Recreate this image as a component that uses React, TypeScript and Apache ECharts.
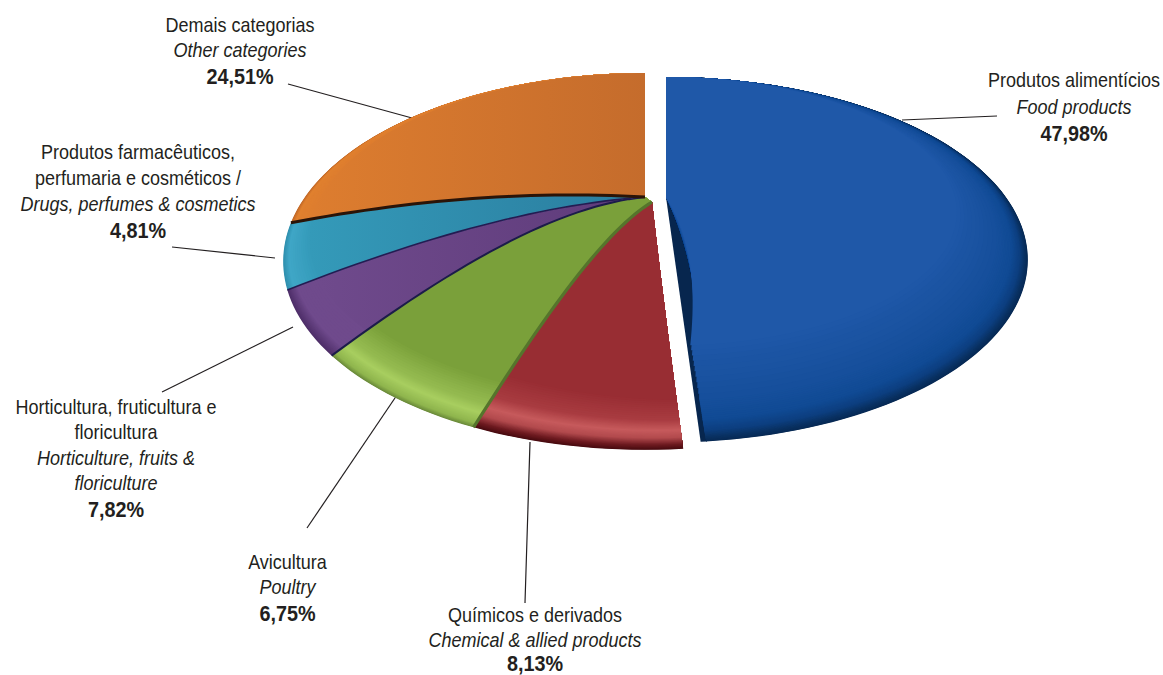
import React, { useEffect, useRef } from "react";
import * as echarts from "echarts";

// clockwise from the top of the pie
const categories = ["Produtos alimentícios", "Químicos e derivados", "Avicultura", "Horticultura, fruticultura e floricultura", "Produtos farmacêuticos, perfumaria e cosméticos", "Demais categorias"];
// printed percentages
const printedShares = ["47,98%", "8,13%", "6,75%", "7,82%", "4,81%", "24,51%"];
// share of the turn each slice occupies as drawn in the picture
const drawnShares = [48.82, 6.74, 6.67, 5.0, 5.42, 27.35];

const labelPt = [
  ["Produtos alimentícios"],
  ["Químicos e derivados"],
  ["Avicultura"],
  ["Horticultura, fruticultura e", "floricultura"],
  ["Produtos farmacêuticos,", "perfumaria e cosméticos /"],
  ["Demais categorias"],
];
const labelEn = [
  ["Food products"],
  ["Chemical & allied products"],
  ["Poultry"],
  ["Horticulture, fruits &", "floriculture"],
  ["Drugs, perfumes & cosmetics"],
  ["Other categories"],
];
const labelX = [1074, 535, 287.5, 116, 138, 240];
const labelY = [
  [80, 107, 133],
  [615, 640, 663.5],
  [562, 587, 613],
  [407, 432, 458, 483, 509],
  [152, 178, 204, 230],
  [25, 50, 76],
];
const leaders = [
  [997, 116, 902, 120],
  [530, 442, 525, 603],
  [397, 395, 307, 528],
  [293, 327, 162, 392],
  [172, 247, 275, 258],
  [288, 84, 412, 118],
];

// [rim inset, colour] running from the rim inwards
const rimStops: [number, string][][] = [
  [[0, "#082a55"], [0.012, "#0a3263"], [0.03, "#0d3f80"], [0.06, "#104a94"], [0.12, "#164f9c"], [0.3, "#1f58a8"]],
  [[0, "#480b10"], [0.012, "#6d1a20"], [0.03, "#b24a4d"], [0.05, "#c65a5c"], [0.08, "#a83b40"], [0.14, "#982d33"]],
  [[0, "#6a8a3a"], [0.01, "#90b64e"], [0.035, "#a8ce60"], [0.06, "#93b94f"], [0.12, "#7aa03a"]],
  [[0, "#4f2f69"], [0.03, "#6f4a8c"], [0.1, "#6f4a8c"]],
  [[0, "#2f8fae"], [0.02, "#3fa6c6"], [0.1, "#349ab9"]],
  [[0, "#c06828"], [0.02, "#e0802f"], [0.1, "#dd7d2f"]],
];
const bodyGradient = [
  null,
  null,
  null,
  ["#6f4a8c", "#5e3b7a"],
  ["#349ab9", "#2a7c9e"],
  ["#dd7d2f", "#c56c2c"],
];
const separators = [
  null,
  null,
  { color: "#55752c", width: 3.2 },
  { color: "#1c1c4a", width: 2 },
  { color: "#241c52", width: 1.6 },
  { color: "#2a1408", width: 3 },
];

const total = drawnShares.reduce((a, b) => a + b, 0);
const startAngles = drawnShares.map((_, i) => (drawnShares.slice(0, i).reduce((a, b) => a + b, 0) / total) * 360);

// projected disc: turn angle + radius fraction to screen
const CX = 645, TIP_Y = 197, RX = 340, PA = 99, PC = -0.342;
const bendTable = [[176.5, 0], [200, 19], [224, 24], [242, 14], [261.5, 11], [360, 0]];
function bend(deg: number) {
  for (let i = 1; i < bendTable.length; i++) {
    if (deg <= bendTable[i][0]) {
      const [a, av] = bendTable[i - 1], [b, bv] = bendTable[i];
      return deg < a ? 0 : av + ((bv - av) * (deg - a)) / (b - a);
    }
  }
  return 0;
}
function project(deg: number, rho: number, slice: number) {
  const t = (deg * Math.PI) / 180;
  const v = -Math.cos(t);
  const d = 1 + PC * v * rho;
  let x = CX + (RX * rho * Math.sin(t)) / d;
  let y = (PA * v * rho + TIP_Y) / d;
  y -= bend(deg) * 4 * rho * (1 - rho);
  if (slice === 0) {
    x += 21;
    y = 77 + (y - 73) * 0.97;
  }
  let shift = 0;
  if (slice === 1) shift = 1;
  if (slice === 2) shift = Math.max(0, 1 - (deg - startAngles[2]) / 24);
  x += 7 * (1 - rho) * shift;
  y += 5 * (1 - rho) * shift;
  return [x, y];
}
function hex(c: string) {
  return [1, 3, 5].map((i) => parseInt(c.slice(i, i + 2), 16));
}
function mix(a: string, b: string, f: number) {
  const A = hex(a), B = hex(b);
  return `rgb(${A.map((v, i) => Math.round(v + (B[i] - v) * f)).join(",")})`;
}
const BULGE = 13;
function slicePoints(i: number, from: number, to: number, inset: number) {
  const pts: number[][] = [];
  const w = (deg: number) => (1 - Math.cos((deg * Math.PI) / 180)) / 2;
  const rimAt = (deg: number) => 1 - inset * w(deg);
  const edge = (deg: number, rho: number, bulge: boolean) => {
    const p = project(deg, rho, i);
    if (bulge) {
      const r = rho / rimAt(deg);
      p[0] += BULGE * 4 * r * (1 - r);
    }
    return p;
  };
  for (let k = 0; k <= 24; k++) pts.push(edge(from, (rimAt(from) * k) / 24, false));
  const n = Math.max(6, Math.ceil((to - from) / 1.5));
  for (let k = 1; k < n; k++) {
    const deg = from + ((to - from) * k) / n;
    pts.push(project(deg, rimAt(deg), i));
  }
  for (let k = 24; k >= 0; k--) pts.push(edge(to, (rimAt(to) * k) / 24, i === 0));
  return pts;
}

function renderSlice(_params: any, api: any) {
  const i = api.value(0);
  const from = startAngles[i];
  const sliceEnd = from + (api.value(1) / total) * 360;
  const to = i === 0 ? sliceEnd + 0.4 : sliceEnd;
  const children: any[] = [];
  const faceTo = i === 0 ? to - 0.6 : to;
  if (i === 0) {
    // the dark cut wall of the pulled-out slice
    const wall: number[][] = [project(to, 0, 0), project(to, 1, 0)];
    for (let k = 24; k >= 0; k--) {
      const r = k / 24;
      const p = project(faceTo, r, 0);
      p[0] += BULGE * 4 * r * (1 - r) + 1;
      wall.push(p);
    }
    children.push({ type: "polygon", shape: { points: wall }, style: { fill: "#07264e" } });
  }
  const stops = rimStops[i];
  for (let s = 0; s < stops.length - 1; s++) {
    const [t0, c0] = stops[s], [t1, c1] = stops[s + 1];
    const steps = 10;
    for (let k = 0; k < steps; k++) {
      const f = k / steps;
      children.push({
        type: "polygon",
        shape: { points: slicePoints(i, from, faceTo, t0 + (t1 - t0) * f) },
        style: { fill: mix(c0, c1, f) },
      });
    }
  }
  const g = bodyGradient[i];
  const lastInset = stops[stops.length - 1][0];
  children.push({
    type: "polygon",
    shape: { points: slicePoints(i, from, faceTo, lastInset) },
    style: {
      fill: g
        ? new echarts.graphic.LinearGradient(0, 0, 1, 0, [{ offset: 0, color: g[0] }, { offset: 1, color: g[1] }])
        : stops[stops.length - 1][1],
    },
  });
  const sep = separators[i];
  if (sep) {
    const pts: number[][] = [];
    for (let k = 0; k <= 30; k++) pts.push(project(from, k / 30, i));
    children.push({ type: "polyline", shape: { points: pts }, style: { fill: "none", stroke: sep.color, lineWidth: sep.width } });
  }
  return { type: "group", children };
}

const FONT = "'Liberation Sans', Arial, sans-serif";

export default function App() {
  const ref = useRef<HTMLDivElement>(null);
  useEffect(() => {
    document.body.style.margin = "0";
    const chart = echarts.init(ref.current!, undefined, { renderer: "svg" });
    const graphic: any[] = [];
    leaders.forEach((l) => {
      graphic.push({ type: "line", shape: { x1: l[0], y1: l[1], x2: l[2], y2: l[3] }, style: { stroke: "#231f20", lineWidth: 1.2 } });
    });
    categories.forEach((_, i) => {
      const lines = [
        ...labelPt[i].map((t) => ({ t, fontSize: 20, fontStyle: "normal", fontWeight: "normal" })),
        ...labelEn[i].map((t) => ({ t, fontSize: 20, fontStyle: "italic", fontWeight: "normal" })),
        { t: printedShares[i], fontSize: 22, fontStyle: "normal", fontWeight: "bold" },
      ];
      lines.forEach((l, k) => {
        graphic.push({
          type: "text",
          x: labelX[i],
          y: labelY[i][k],
          scaleX: 0.9,
          style: {
            text: l.t,
            align: "center",
            verticalAlign: "middle",
            fontFamily: FONT,
            fontSize: l.fontSize,
            fontStyle: l.fontStyle,
            fontWeight: l.fontWeight,
            fill: "#231f20",
          },
        });
      });
    });
    chart.setOption({
      animation: false,
      backgroundColor: "#ffffff",
      graphic,
      series: [
        {
          type: "custom",
          coordinateSystem: "none",
          renderItem: renderSlice,
          data: categories.map((name, i) => ({ name, value: [i, drawnShares[i]] })),
          silent: true,
        },
      ],
    });
    return () => chart.dispose();
  }, []);
  return <div ref={ref} style={{ width: 1163, height: 675 }} />;
}
